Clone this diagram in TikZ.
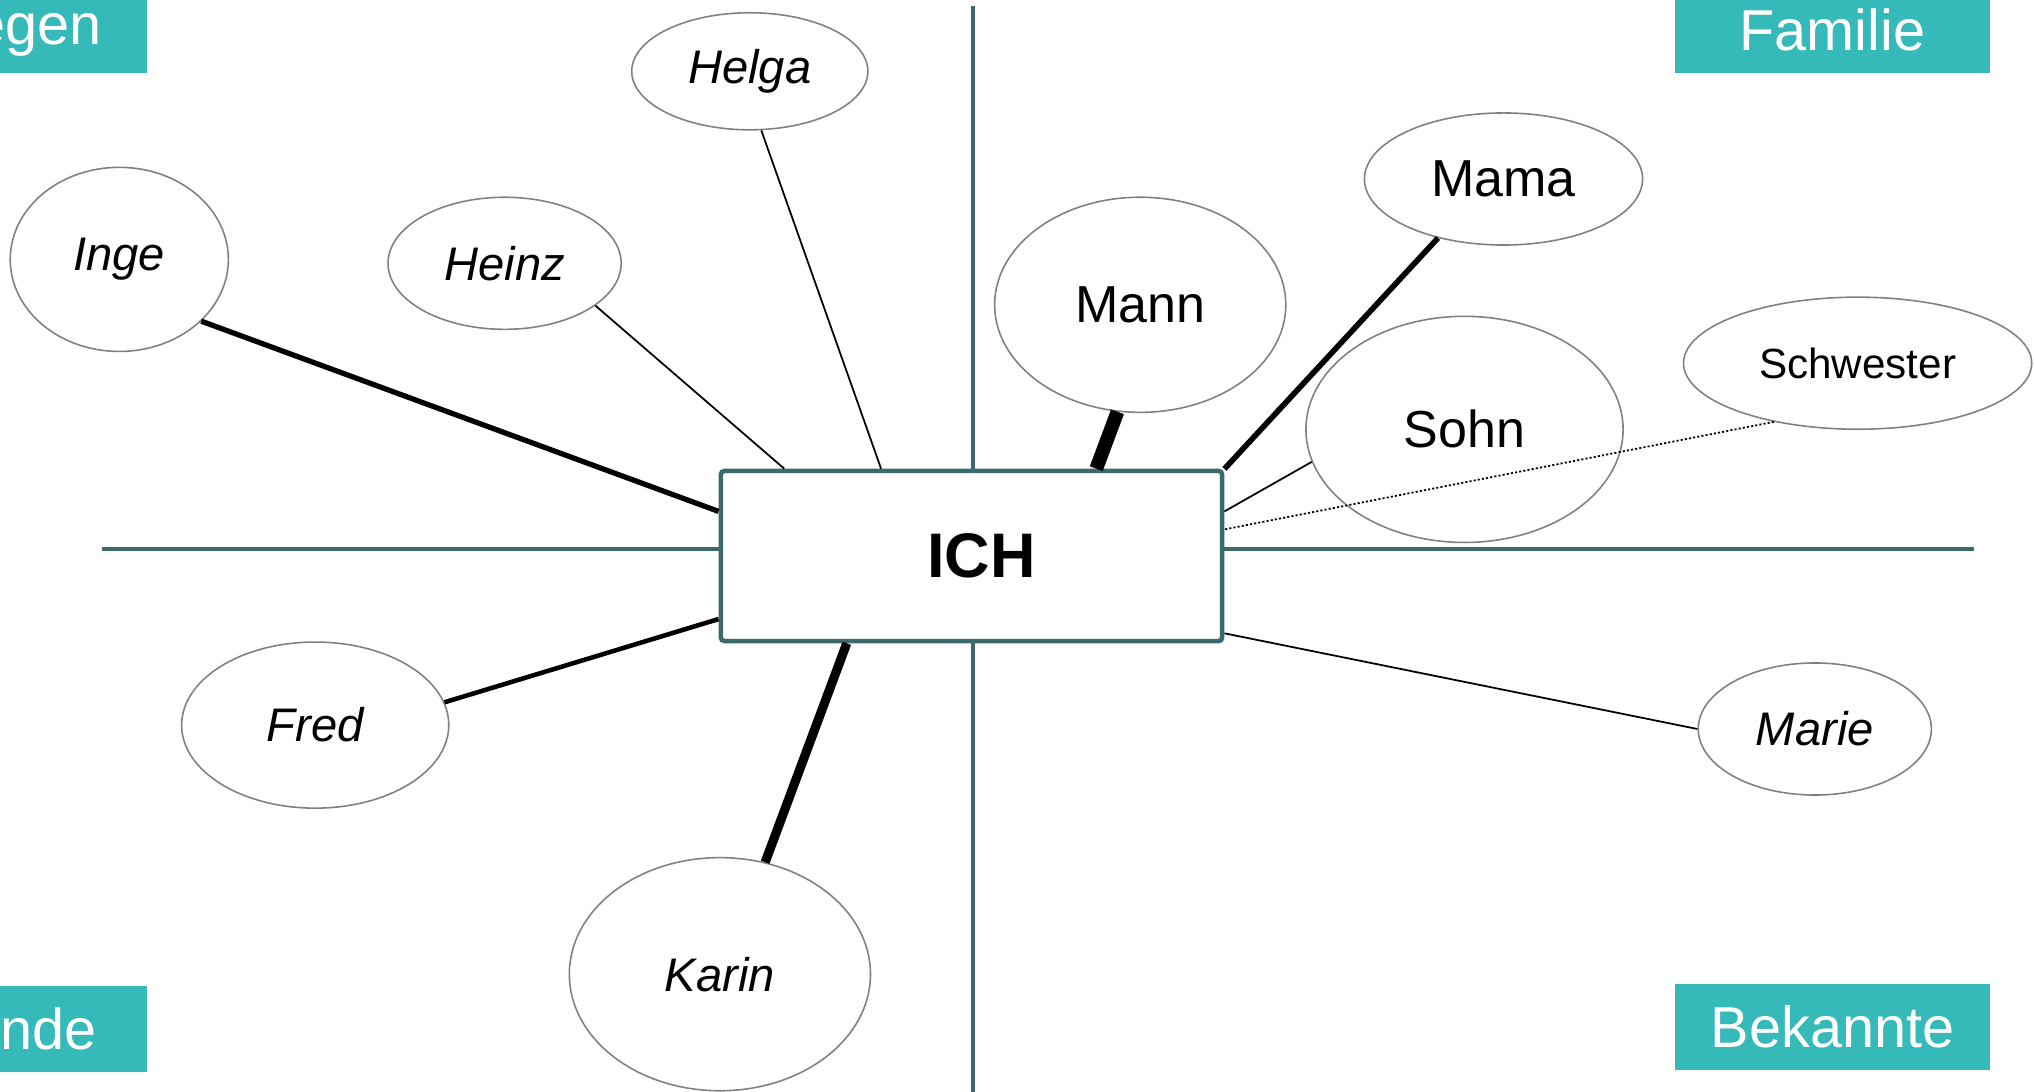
\documentclass[tikz,border=0pt]{standalone}
\usepackage{fontspec}
\setmainfont{Liberation Sans}
\usetikzlibrary{shapes.geometric}
\definecolor{axisteal}{RGB}{58,106,106}
\definecolor{tagteal}{RGB}{53,186,185}
\definecolor{ringgray}{RGB}{128,128,128}

\begin{document}
\begin{tikzpicture}[x=0.01cm,y=-0.01cm,
  person/.style={ellipse,draw=ringgray,line width=0.45pt,inner sep=0pt},
  kin/.style={person,font=\fontsize{14.8}{17}\selectfont},
  pal/.style={person,font=\itshape\fontsize{13.4}{16}\selectfont},
  tag/.style={fill=tagteal,text=white,minimum width=3.15cm,minimum height=0.86cm,
    inner sep=0pt,font=\fontsize{16.4}{19}\selectfont},
  link/.style={line width=0.5pt}]
\clip (0,0) rectangle (2034,1092);

% quadrant axes
\coordinate (vtop) at (973,6);
\coordinate (vbot) at (973,1092);
\coordinate (hleft) at (102,549);
\coordinate (hright) at (1974,549);
\draw[axisteal,line width=1.15pt] (vtop) -- (vbot);
\draw[axisteal,line width=1.15pt] (hleft) -- (hright);

% quadrant tags
\node[tag] (kollegen) at (-10.5,30) {Kollegen};
\node[tag] (freunde) at (-10.5,1029) {Freunde};
\node[tag] (familie) at (1832.5,30) {Familie};
\node[tag] (bekannte) at (1832.5,1027) {Bekannte};

% centre
\node[draw=axisteal,fill=white,line width=1.3pt,rounded corners=1pt,
      minimum width=5.01cm,minimum height=1.70cm,
      font=\bfseries\fontsize{17.9}{21}\selectfont] (ich) at (971.5,556) {\hspace*{0.2cm}ICH};

% people
\node[pal,minimum width=2.36cm,minimum height=1.17cm] (helga) at (749.8,71.3) {Helga};
\node[pal,minimum width=2.18cm,minimum height=1.84cm] (inge) at (119.3,259.4) {Inge};
\node[pal,minimum width=2.33cm,minimum height=1.32cm] (heinz) at (504.6,263.3) {Heinz};
\node[kin,minimum width=2.91cm,minimum height=2.15cm] (mann) at (1140.2,304.8) {Mann};
\node[kin,minimum width=2.78cm,minimum height=1.32cm] (mama) at (1503.5,179) {Mama};
\node[kin,minimum width=3.17cm,minimum height=2.26cm] (sohn) at (1464.5,429.4) {Sohn};
\node[person,minimum width=3.48cm,minimum height=1.32cm,
      font=\fontsize{12}{14}\selectfont] (schwester) at (1857.6,363.2) {Schwester};
\node[pal,minimum width=2.67cm,minimum height=1.66cm] (fred) at (315.2,725.1) {Fred};
\node[pal,minimum width=3.01cm,minimum height=2.33cm] (karin) at (719.9,974.2) {Karin};
\node[pal,minimum width=2.33cm,minimum height=1.32cm] (marie) at (1814.8,729) {Marie};

% ties
\draw[line width=1.5pt] (inge.323.3) -- (ich.170.2);
\draw[link] (heinz.335.5) -- (ich.155.8);
\draw[link] (helga.281.3) -- (ich.136.1);
\draw[line width=3.9pt] (mann.258.4) -- (ich.35);
\draw[line width=1.6pt] (mama.222) -- (ich.19);
\draw[link] (sohn.192.8) -- (ich.10);
\draw[link,dash pattern=on 0.6pt off 0.6pt] (schwester.215) -- (ich.6.3);
\draw[line width=1.3pt] (fred.10.8) -- (ich.194.1);
\draw[line width=2.6pt] (karin.68.1) -- (ich.215.6);
\draw[link] (marie.180) -- (ich.343.8);
\end{tikzpicture}
\end{document}
